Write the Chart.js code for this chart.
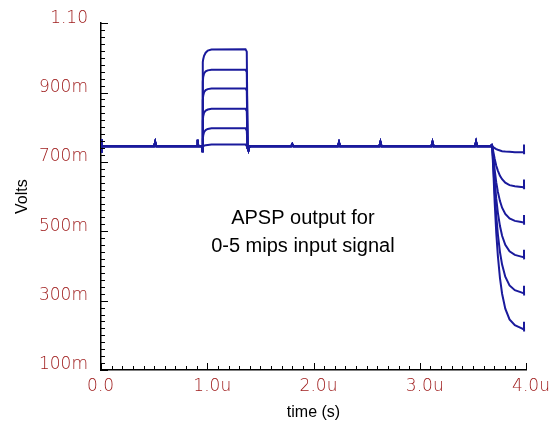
<!DOCTYPE html>
<html>
<head>
<meta charset="utf-8">
<script src="https://cdn.jsdelivr.net/npm/chart.js@4/dist/chart.umd.min.js"></script>
<style>
  body { margin: 0; background: #fff; }
  canvas { display: block; }
</style>
</head>
<body>
<canvas id="apspChart" width="558" height="425"></canvas>
<script>
// tick labels as shown on the plot
const xTickLabels = ['0.0  ', '1.0u', '2.0u', '3.0u', '4.0u'];
const yTickLabels = ['100m', '300m', '500m', '700m', '900m', '1.10'];
const noteLines = ['APSP output for', '0-5 mips input signal'];

// common part of all 6 traces before the pulse (time in us, volts)
const baselineStart = [[0, 0.766], [0.002, 0.726], [0.006, 0.745], [0.50, 0.745], [0.51, 0.757], [0.52, 0.745],
    [0.905, 0.745], [0.91, 0.764], [0.915, 0.745], [0.95, 0.745]];

// pulse from ~0.95u to ~1.4u, one row of values per trace (0..5 mips)
const pulseTimes = [0.955, 0.958, 0.962, 0.97, 0.985, 1.005, 1.04, 1.36, 1.372, 1.38, 1.388, 1.398];
const pulseValues = [
    [0.731, 0.740, 0.744, 0.747, 0.748, 0.749, 0.750, 0.750, 0.746, 0.738, 0.733, 0.745],
    [0.731, 0.765, 0.776, 0.786, 0.792, 0.795, 0.797, 0.797, 0.790, 0.740, 0.733, 0.745],
    [0.731, 0.818, 0.832, 0.842, 0.848, 0.851, 0.853, 0.853, 0.846, 0.740, 0.733, 0.745],
    [0.731, 0.877, 0.891, 0.901, 0.907, 0.910, 0.912, 0.912, 0.905, 0.740, 0.733, 0.745],
    [0.731, 0.931, 0.945, 0.955, 0.961, 0.964, 0.966, 0.966, 0.959, 0.740, 0.733, 0.745],
    [0.731, 0.988, 0.996, 1.006, 1.015, 1.021, 1.024, 1.025, 1.018, 0.740, 0.733, 0.745]
];

// common baseline between the pulse and the final drop
const baselineMid = [[1.40, 0.745], [1.79, 0.745], [1.80, 0.751], [1.81, 0.745], [2.23, 0.745], [2.24, 0.756], [2.25, 0.745],
    [2.62, 0.745], [2.63, 0.757], [2.64, 0.745], [3.11, 0.745], [3.12, 0.757], [3.13, 0.745],
    [3.52, 0.745], [3.53, 0.758], [3.54, 0.745], [3.675, 0.745], [3.678, 0.752], [3.682, 0.745]];

// drop at the end, one row per trace
const fallTimes = [3.685, 3.695, 3.705, 3.72, 3.735, 3.755, 3.775, 3.805, 3.845, 3.895, 3.955, 3.98];
const fallValues = [
    [0.745, 0.742, 0.740, 0.737, 0.735, 0.733, 0.731, 0.730, 0.729, 0.728, 0.728, 0.728],
    [0.745, 0.725, 0.709, 0.689, 0.675, 0.660, 0.650, 0.640, 0.633, 0.630, 0.628, 0.627],
    [0.745, 0.708, 0.678, 0.641, 0.614, 0.587, 0.568, 0.550, 0.537, 0.530, 0.527, 0.525],
    [0.745, 0.692, 0.647, 0.594, 0.554, 0.515, 0.487, 0.461, 0.442, 0.432, 0.427, 0.425],
    [0.745, 0.675, 0.616, 0.545, 0.492, 0.440, 0.404, 0.369, 0.344, 0.330, 0.324, 0.321],
    [0.745, 0.657, 0.584, 0.496, 0.430, 0.365, 0.320, 0.277, 0.246, 0.229, 0.221, 0.217]
];
// little end-of-trace marker (up / down from the last value)
const endMarkUp = [0.022, 0.022, 0.022, 0.022, 0.022, 0.022];
const endMarkDown = [-0.006, -0.006, -0.006, -0.006, -0.006, -0.006];

const traceColor = '#1a1a9c';
const labelColor = '#9c1616';

function toPoints(pairs) {
    return pairs.map(p => ({x: p[0], y: p[1]}));
}

const datasets = [];
for (let i = 0; i < pulseValues.length; i++) {
    let pts = toPoints(baselineStart);
    for (let j = 0; j < pulseTimes.length; j++) {
        pts.push({x: pulseTimes[j], y: pulseValues[i][j]});
    }
    pts = pts.concat(toPoints(baselineMid));
    for (let j = 0; j < fallTimes.length; j++) {
        pts.push({x: fallTimes[j], y: fallValues[i][j]});
    }
    const last = fallValues[i][fallValues[i].length - 1];
    pts.push({x: 3.981, y: last + endMarkUp[i]});
    pts.push({x: 3.982, y: last + endMarkDown[i]});
    datasets.push({
        label: i + ' mips',
        data: pts,
        borderColor: traceColor,
        backgroundColor: traceColor,
        borderWidth: 2,
        pointRadius: 0,
        tension: 0,
        fill: false
    });
}

// inward tick marks (minor + major) like the simulator plot
const tickMarks = {
    id: 'tickMarks',
    afterDraw(chart) {
        const ctx = chart.ctx;
        const xs = chart.scales.x, ys = chart.scales.y;
        const area = chart.chartArea;
        ctx.save();
        ctx.strokeStyle = '#000';
        ctx.lineWidth = 1;
        ctx.beginPath();
        for (let k = 0; k <= 40; k++) {
            const px = Math.round(xs.getPixelForValue(k / 10)) + 0.5;
            const len = (k % 10 === 0) ? 7 : 4;
            ctx.moveTo(px, area.bottom);
            ctx.lineTo(px, area.bottom - len);
        }
        for (let k = 0; k <= 50; k++) {
            const py = Math.round(ys.getPixelForValue(0.1 + k * 0.02)) + 0.5;
            const len = (k % 10 === 0) ? 7 : 4;
            ctx.moveTo(area.left, py);
            ctx.lineTo(area.left + len, py);
        }
        ctx.stroke();

        // note text in the middle of the plot
        ctx.fillStyle = '#000';
        ctx.font = '20px "Liberation Sans", Arial, sans-serif';
        ctx.textAlign = 'center';
        ctx.textBaseline = 'middle';
        ctx.fillText(noteLines[0], xs.getPixelForValue(1.9), ys.getPixelForValue(0.537));
        ctx.fillText(noteLines[1], xs.getPixelForValue(1.9), ys.getPixelForValue(0.457));
        ctx.restore();
    }
};

const tickFont = {family: '"DejaVu Sans", sans-serif', size: 17, weight: 200};

const ctx = document.getElementById('apspChart').getContext('2d');
new Chart(ctx, {
    type: 'line',
    data: {datasets: datasets},
    options: {
        responsive: false,
        animation: false,
        parsing: false,
        layout: {padding: {left: 0, top: 21, right: 32, bottom: 0}},
        plugins: {legend: {display: false}, tooltip: {enabled: false}},
        scales: {
            x: {
                type: 'linear',
                min: 0,
                max: 4,
                grid: {display: false, drawTicks: false},
                border: {display: true, color: '#000', width: 1.5},
                ticks: {
                    stepSize: 1,
                    autoSkip: false,
                    maxRotation: 0,
                    padding: 6,
                    labelOffset: 5,
                    color: labelColor,
                    font: tickFont,
                    callback: (v, i) => xTickLabels[i]
                },
                title: {
                    display: true,
                    text: 'time (s)',
                    color: '#000',
                    font: {family: '"Liberation Sans", Arial, sans-serif', size: 16},
                    padding: {top: 4, bottom: 3}
                },
                afterFit(scale) { scale.height = 55; }
            },
            y: {
                type: 'linear',
                min: 0.1,
                max: 1.1,
                grid: {display: false, drawTicks: false},
                border: {display: true, color: '#000', width: 1.5},
                ticks: {
                    stepSize: 0.2,
                    autoSkip: false,
                    padding: 13,
                    labelOffset: -5,
                    color: labelColor,
                    font: tickFont,
                    callback: (v, i) => yTickLabels[i]
                },
                title: {
                    display: true,
                    text: 'Volts',
                    color: '#000',
                    font: {family: '"Liberation Sans", Arial, sans-serif', size: 16},
                    padding: {top: 13, bottom: 0}
                },
                afterFit(scale) { scale.width = 101; }
            }
        }
    },
    plugins: [tickMarks]
});
</script>
</body>
</html>
